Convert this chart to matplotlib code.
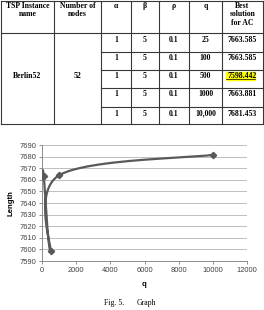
import numpy as np
import matplotlib.pyplot as plt
from matplotlib.patches import Rectangle

# table contents
HEADERS = ['TSP Instance\nname', 'Number of\nnodes', 'α', 'β', 'ρ', 'q',
           'Best\nsolution\nfor AC']
INSTANCE = 'Berlin52'
NODES = '52'
ALPHA = ['1', '1', '1', '1', '1']
BETA = ['5', '5', '5', '5', '5']
RHO = ['0.1', '0.1', '0.1', '0.1', '0.1']
Q_LABELS = ['25', '100', '500', '1000', '10,000']
BEST_LABELS = ['7663.585', '7663.585', '7598.442', '7663.881', '7681.453']

# chart data
Q = [25, 100, 500, 1000, 10000]
LENGTH = [7663.585, 7663.585, 7598.442, 7663.881, 7681.453]

W, H = 264, 310
COL_X = [1, 54, 101, 131, 159, 189, 222, 263]
ROW_Y = [0.5, 33, 52, 70, 88, 107, 124]

SERIF = ['Liberation Serif', 'DejaVu Serif']
SANS = ['Liberation Sans', 'DejaVu Sans']
LINE = '#595959'


def smooth(xs, ys, n=40):
    # excel-like smoothed line: bezier with catmull-rom control points
    pts = np.column_stack([xs, ys]).astype(float)
    out = [pts[0]]
    for i in range(len(pts) - 1):
        p0 = pts[max(i - 1, 0)]
        p1 = pts[i]
        p2 = pts[i + 1]
        p3 = pts[min(i + 2, len(pts) - 1)]
        c1 = p1 + (p2 - p0) / 6
        c2 = p2 - (p3 - p1) / 6
        t = np.linspace(0, 1, n)[1:, None]
        seg = ((1 - t) ** 3) * p1 + 3 * ((1 - t) ** 2) * t * c1 \
            + 3 * (1 - t) * t ** 2 * c2 + t ** 3 * p2
        out.extend(seg)
    out = np.array(out)
    return out[:, 0], out[:, 1]


def draw_table(ax):
    lw = 0.8
    col = '#383838'
    for x in COL_X:
        ax.plot([x, x], [ROW_Y[0], ROW_Y[-1]], color=col, lw=lw)
    ax.plot([COL_X[0], COL_X[-1]], [ROW_Y[0], ROW_Y[0]], color=col, lw=lw)
    ax.plot([COL_X[0], COL_X[-1]], [ROW_Y[1], ROW_Y[1]], color=col, lw=lw)
    ax.plot([COL_X[0], COL_X[-1]], [ROW_Y[-1], ROW_Y[-1]], color=col, lw=lw)
    for y in ROW_Y[2:-1]:
        ax.plot([COL_X[2], COL_X[-1]], [y, y], color=col, lw=lw)

    cx = [(a + b) / 2 for a, b in zip(COL_X[:-1], COL_X[1:])]
    for x, h in zip(cx, HEADERS):
        ax.text(x, 2, h, ha='center', va='top', fontsize=5.6,
                fontweight='bold', family=SERIF, linespacing=1.05)

    mid = (ROW_Y[1] + ROW_Y[-1]) / 2 - 3
    ax.text(cx[0], mid, INSTANCE, ha='center', va='center', fontsize=5.6,
            fontweight='bold', family=SERIF)
    ax.text(cx[1], mid, NODES, ha='center', va='center', fontsize=5.6,
            fontweight='bold', family=SERIF)

    cols = [ALPHA, BETA, RHO, Q_LABELS, BEST_LABELS]
    for i in range(5):
        ty = ROW_Y[i + 1] + 2.5
        for j, vals in enumerate(cols):
            ax.text(cx[j + 2], ty, vals[i], ha='center', va='top',
                    fontsize=5.6, fontweight='bold', family=SERIF)
        if i == 2:
            # highlighted best value
            ax.add_patch(Rectangle((225.5, ty - 0.5), 29.5, 8,
                                   color='#ffff00', zorder=0))
            ax.plot([226, 255], [ty + 6.8, ty + 6.8], color='black', lw=0.5)


fig = plt.figure(figsize=(W / 100, H / 100), dpi=100)
bg = fig.add_axes([0, 0, 1, 1])
bg.set_xlim(0, W)
bg.set_ylim(H, 0)
bg.axis('off')
draw_table(bg)
bg.text(104, 303, 'Fig. 5.', ha='left', va='center', fontsize=5.6, family=SERIF)
bg.text(137, 303, 'Graph', ha='left', va='center', fontsize=5.6, family=SERIF)

ax = fig.add_axes([42 / W, (H - 261) / H, (247 - 42) / W, (261 - 145) / H])
sx, sy = smooth(Q, LENGTH)
ax.plot(sx, sy, color=LINE, lw=1.6, zorder=3)
ax.plot(Q, LENGTH, linestyle='none', marker='D', ms=3.2, color=LINE, zorder=4)
ax.set_xlim(0, 12000)
ax.set_ylim(7590, 7690)
ax.set_xticks(np.arange(0, 12001, 2000))
ax.set_yticks(np.arange(7590, 7691, 10))
ax.grid(axis='y', color='#bfbfbf', lw=0.7)
ax.set_axisbelow(True)
for s in ('top', 'right'):
    ax.spines[s].set_visible(False)
for s in ('left', 'bottom'):
    ax.spines[s].set_color('#8c8c8c')
    ax.spines[s].set_linewidth(0.7)
ax.tick_params(colors='#8c8c8c', labelcolor='#404040', length=2, width=0.7,
               labelsize=5.4, pad=2)
for lab in ax.get_xticklabels() + ax.get_yticklabels():
    lab.set_family(SANS)
ax.set_xlabel('q', fontsize=5.6, fontweight='bold', family=SANS, labelpad=5)
ax.set_ylabel('Length', fontsize=5.6, fontweight='bold', family=SANS, labelpad=4)

fig.savefig('out.png', dpi=100)
